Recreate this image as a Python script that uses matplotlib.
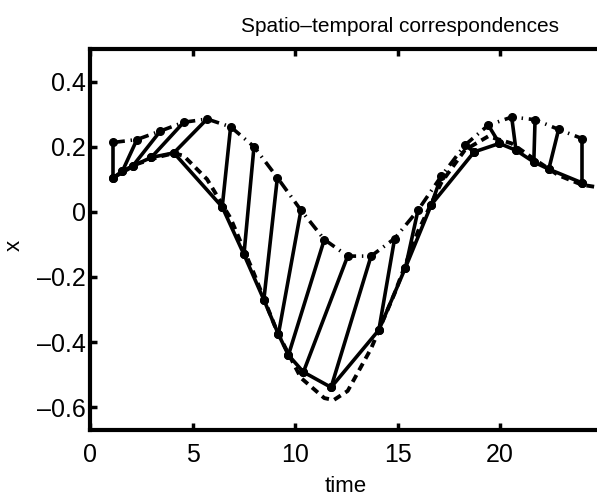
import matplotlib
matplotlib.use("Agg")
import matplotlib.pyplot as plt

plt.rcParams['font.family'] = ['Liberation Sans', 'DejaVu Sans']

# upper sequence (dash-dot)
t_upper = [1.14, 2.29, 3.43, 4.57, 5.71, 6.86, 8.00, 9.14, 10.29, 11.43, 12.57,
           13.71, 14.86, 16.00, 17.14, 18.29, 19.43, 20.57, 21.71, 22.86, 24.00]
x_upper = [0.213, 0.222, 0.248, 0.275, 0.285, 0.261, 0.200, 0.105, 0.005, -0.085,
           -0.136, -0.136, -0.082, 0.005, 0.110, 0.205, 0.266, 0.291, 0.283, 0.253, 0.225]

# warped sequence (solid with points)
t_warp = [1.14, 1.58, 2.09, 2.99, 4.09, 6.45, 7.51, 8.48, 9.19, 9.68, 10.41,
          11.76, 14.09, 15.39, 16.65, 18.74, 19.97, 20.78, 21.65, 22.38, 24.00]
x_warp = [0.105, 0.125, 0.141, 0.167, 0.181, 0.015, -0.131, -0.270, -0.376, -0.440, -0.492,
          -0.539, -0.363, -0.171, 0.022, 0.184, 0.210, 0.189, 0.153, 0.131, 0.089]

# reference sequence (dashed)
t_ref = [1.14, 2.29, 3.43, 4.11, 4.57, 5.71, 6.86, 8.00, 9.14, 10.29, 11.43, 11.89,
         12.57, 13.71, 14.86, 16.00, 17.14, 18.29, 19.43, 20.57, 21.71, 22.86, 24.00, 24.80]
x_ref = [0.105, 0.147, 0.170, 0.180, 0.172, 0.100, -0.020, -0.190, -0.370, -0.510, -0.572, -0.578,
         -0.550, -0.420, -0.250, -0.060, 0.090, 0.190, 0.232, 0.210, 0.160, 0.112, 0.083, 0.075]

xticks = [0, 5, 10, 15, 20]
xtick_labels = ['0', '5', '10', '15', '20']
yticks = [-0.6, -0.4, -0.2, 0, 0.2, 0.4]
ytick_labels = ['\u20130.6', '\u20130.4', '\u20130.2', '0', '0.2', '0.4']

W, H = 597, 497
fig = plt.figure(figsize=(W / 100, H / 100), dpi=100)
left_px, right_px = 90.0, 90.0 + 25 * 20.5
top_px, bottom_px = 49, 430
ax = fig.add_axes([left_px / W, 1 - bottom_px / H, (right_px - left_px) / W, (bottom_px - top_px) / H])

lw = 2.6
ax.plot(t_ref, x_ref, color='black', lw=2.8, dashes=(2.0, 1.4), dash_capstyle='butt')
ax.plot(t_upper, x_upper, color='black', lw=lw, dashes=(3.2, 1.6, 0.4, 1.6), dash_capstyle='butt')
ax.plot(t_warp, x_warp, color='black', lw=lw, marker='o', ms=5.5)
for tu, xu, tw, xw in zip(t_upper, x_upper, t_warp, x_warp):
    ax.plot([tu, tw], [xu, xw], color='black', lw=lw, marker='o', ms=5.5, solid_capstyle='round')

ax.set_xlim(0, 25)
ax.set_ylim(-0.67, 0.5)
ax.set_xticks(xticks)
ax.set_xticklabels(xtick_labels)
ax.set_yticks(yticks)
ax.set_yticklabels(ytick_labels)
ax.tick_params(direction='in', length=5, width=2.5, labelsize=18, top=True, right=False)
ax.tick_params(axis='y', pad=3)
ax.tick_params(axis='x', pad=9)
for s in ax.spines.values():
    s.set_linewidth(3.0)
ax.spines['right'].set_visible(False)

fig.text(400 / W, 1 - 27 / H, 'Spatio\u2013temporal correspondences', ha='center', va='center', fontsize=15)
fig.text(346 / W, 1 - 486 / H, 'time', ha='center', va='center', fontsize=16)
fig.text(14 / W, 1 - 245 / H, 'x', ha='center', va='center', fontsize=16, rotation=90)

fig.savefig('out.png', dpi=100)
